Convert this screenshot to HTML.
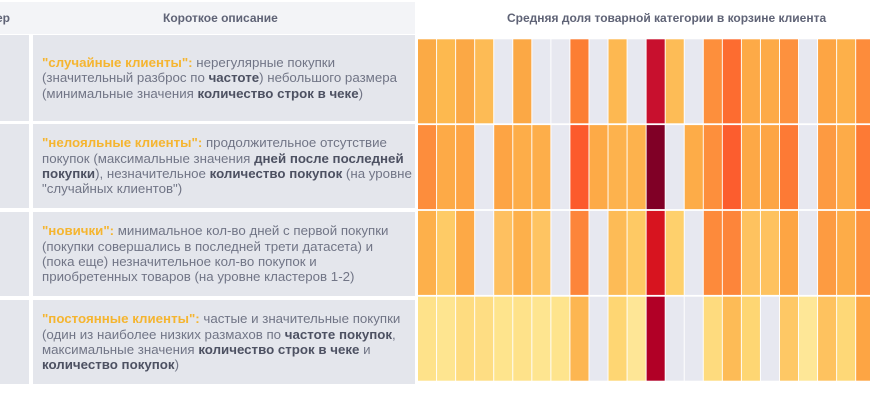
<!DOCTYPE html>
<html><head><meta charset="utf-8">
<style>
html,body{margin:0;padding:0;background:#fff;}
body{width:870px;height:400px;position:relative;overflow:hidden;font-family:"Liberation Sans","Noto Sans CJK SC",sans-serif;}
.hdr{position:absolute;left:0;top:2px;width:415px;height:32px;background:#f3f4f7;}
.ht{position:absolute;font-weight:bold;font-size:12px;color:#5f6376;white-space:nowrap;line-height:14px;}
.lc{position:absolute;left:0;width:29px;background:#e4e6ec;}
.dc{position:absolute;left:33px;width:382px;background:#e4e6ec;display:flex;align-items:center;}
.tx{padding-left:9px;font-size:13.3px;line-height:15.3px;color:#717586;white-space:nowrap;}
.tx b{color:#4d5162;}
.tx .q{color:#f5b530;font-weight:bold;}
svg{position:absolute;left:0;top:0;}
</style></head><body>
<div class="hdr"></div>
<div class="ht" style="right:860px;top:11px;">Кластер</div>
<div class="ht" style="left:163px;top:11px;">Короткое описание</div>
<div class="ht" style="left:507px;top:11px;">Средняя доля товарной категории в корзине клиента</div>

<div class="lc" style="top:35px;height:86px;"></div>
<div class="dc" style="top:35px;height:86px;"><div class="tx"><span class="q">"случайные клиенты":</span> нерегулярные покупки<br>(значительный разброс по <b>частоте</b>) небольшого размера<br>(минимальные значения <b>количество строк в чеке</b>)</div></div>

<div class="lc" style="top:124px;height:84px;"></div>
<div class="dc" style="top:124px;height:84px;"><div class="tx"><span class="q">"нелояльные клиенты":</span> продолжительное отсутствие<br>покупок (максимальные значения <b>дней после последней</b><br><b>покупки</b>), незначительное <b>количество покупок</b> (на уровне<br>"случайных клиентов")</div></div>

<div class="lc" style="top:212px;height:84px;"></div>
<div class="dc" style="top:212px;height:84px;"><div class="tx"><span class="q">"новички":</span> минимальное кол-во дней с первой покупки<br>(покупки совершались в последней трети датасета) и<br>(пока еще) незначительное кол-во покупок и<br>приобретенных товаров (на уровне кластеров 1-2)</div></div>

<div class="lc" style="top:300px;height:84px;"></div>
<div class="dc" style="top:300px;height:84px;"><div class="tx"><span class="q">"постоянные клиенты":</span> частые и значительные покупки<br>(один из наиболее низких размахов по <b>частоте покупок</b>,<br>максимальные значения <b>количество строк в чеке</b> и<br><b>количество покупок</b>)</div></div>

<svg width="870" height="400" viewBox="0 0 870 400" id="hm"></svg>
<script>
var G="#e7e8f0";
var rows=[
["#fbaa45","#fdb94f","#fba845","#fdbb55",G,"#fba845",G,G,"#fc7e33",G,"#fdb851",G,"#c8102e","#fdbc56",G,"#fd8f3c","#fd6c30","#fdaa47","#fdaa47","#fd913e",G,"#fda544","#fdb04a","#fd8c3b"],
["#fd8d3c","#fdaa47","#fda444",G,"#fda444","#fdad49","#fdae4a",G,"#fc5a2c","#fdaa47","#fdb24d","#fdb24d","#800026",G,"#fdac48","#fd8f3c","#fc5d2e","#fda846","#fda544","#fd7a35",G,"#fd9a41","#fdab48","#fd7a35"],
["#fdb04b","#fecb66","#fda946",G,"#fec060","#fdb04b","#fec462",G,"#fd853a",G,"#fdbb56","#fec964","#d7141f","#fed06c",G,"#fd8a3b","#fd853a","#fec25f","#fec25f","#fda544",G,"#fd9b41","#fdac48","#fd913e"],
["#fee28a","#fee590","#fedc80","#fedd83","#fee48d","#fee28a","#fee590","#fee48d","#fdb651",G,"#fed673","#fee696","#b10026",G,G,"#fedb7e","#fdbb56","#fed673",G,"#fec865","#fee797","#fec25f","#fed877","#fda544"]
];
var s="";
for(var r=0;r<4;r++){for(var c=0;c<24;c++){
var x=418+c*19.05,y=39.3+r*85.8;
s+='<rect x="'+x.toFixed(2)+'" y="'+y.toFixed(2)+'" width="18.1" height="84" fill="'+rows[r][c]+'"/>';
}}
document.getElementById("hm").innerHTML=s;
</script>
</body></html>
